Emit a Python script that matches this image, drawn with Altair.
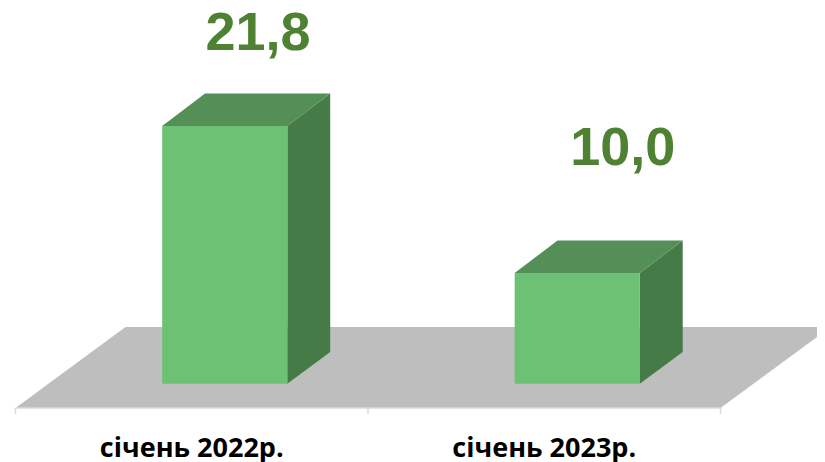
import altair as alt
import pandas as pd

categories = ["січень 2022р.", "січень 2023р."]
values = [21.8, 10.0]
value_labels = ["21,8", "10,0"]
cat_pos = [0.5, 1.5]
label_x = [0.688, 1.723]
label_y = [27.9, 18.67]

BASE = -0.83
DX, DY = 0.312, 6.5       # floor depth in x and value units
D0, D1 = 0.30, 0.69       # bar front / back depth
HALF = 0.1775
X_DOM = [-0.0213, 2.2738]
Y_DOM = [-0.83, 31.27]

FRONT, TOP, SIDE, FLOOR, AXIS = "#6DC174", "#558F58", "#467A47", "#BEBEBE", "#D9D9D9"

x_s = alt.Scale(domain=X_DOM, nice=False, zero=False)
y_s = alt.Scale(domain=Y_DOM, nice=False, zero=False)


def band(points_low, points_high, group):
    """Rows for an area whose lower and upper edges are polylines on shared x."""
    return [{"x": x, "lo": lo, "hi": hi, "g": group}
            for x, lo, hi in zip(points_low, *points_high)]


floor_rows = band(
    [0, DX, 2, 2 + DX],
    [[BASE, BASE, BASE, BASE + DY], [BASE, BASE + DY, BASE + DY, BASE + DY]],
    "floor",
)
side_rows, top_rows, front_rows = [], [], []
for i, (c, v) in enumerate(zip(cat_pos, values)):
    fx = c + D0 * DX
    bx = c + D1 * DX
    f_base = BASE + D0 * DY
    b_base = BASE + D1 * DY
    b_top = v + (D1 - D0) * DY + 0.08
    side_rows += band([fx + HALF, bx + HALF],
                      [[f_base, b_base], [v, b_top]], f"s{i}")
    top_rows += band(
        [fx - HALF, bx - HALF, fx + HALF, bx + HALF],
        [[v, v, v, b_top], [v, b_top, b_top, b_top]],
        f"t{i}",
    )
    front_rows.append({"x": fx - HALF, "x2": fx + HALF, "lo": f_base, "hi": v})


def area(rows, color):
    return alt.Chart(pd.DataFrame(rows)).mark_area(color=color, interpolate="linear", clip=True).encode(
        x=alt.X("x:Q", scale=x_s, axis=None),
        y=alt.Y("lo:Q", scale=y_s, axis=None),
        y2="hi:Q",
        detail="g:N",
    )


ticks = alt.Chart(pd.DataFrame({"x": [0, 1, 2]})).mark_rule(color=AXIS, strokeWidth=1.5).encode(
    x=alt.X("x:Q", scale=x_s, axis=None),
    y=alt.value(400),
    y2=alt.value(406),
)
axis_line = alt.Chart(pd.DataFrame({"x": [0], "x2": [2], "y": [BASE]})).mark_rule(
    color=AXIS, strokeWidth=1.5
).encode(x=alt.X("x:Q", scale=x_s, axis=None), x2="x2:Q",
         y=alt.Y("y:Q", scale=y_s, axis=None))

front = alt.Chart(pd.DataFrame(front_rows)).mark_rect(color=FRONT).encode(
    x=alt.X("x:Q", scale=x_s, axis=None), x2="x2:Q",
    y=alt.Y("lo:Q", scale=y_s, axis=None), y2="hi:Q",
)

val_text = alt.Chart(pd.DataFrame({"x": label_x, "y": label_y, "t": value_labels})).mark_text(
    font="Liberation Sans", fontWeight="bold", fontSize=54, color="#4F8132",
    align="center", baseline="alphabetic",
).encode(x=alt.X("x:Q", scale=x_s, axis=None), y=alt.Y("y:Q", scale=y_s, axis=None), text="t:N")

cat_text = alt.Chart(pd.DataFrame({"x": cat_pos, "t": categories})).mark_text(
    font="Open Sans", fontWeight="bold", fontSize=27, color="#000000",
    align="center", baseline="alphabetic",
).encode(x=alt.X("x:Q", scale=x_s, axis=None), y=alt.value(449), text="t:N")

chart = alt.layer(
    area(floor_rows, FLOOR), axis_line, ticks,
    area(side_rows, SIDE), area(top_rows, TOP), front,
    val_text, cat_text,
).properties(
    width=809, height=400,
    autosize=alt.AutoSizeParams(type="none"),
    padding={"left": 0, "top": 0, "right": 0, "bottom": 54},
).configure_view(stroke=None)

chart.save("out.html", embed_options={"renderer": "svg", "actions": False})
